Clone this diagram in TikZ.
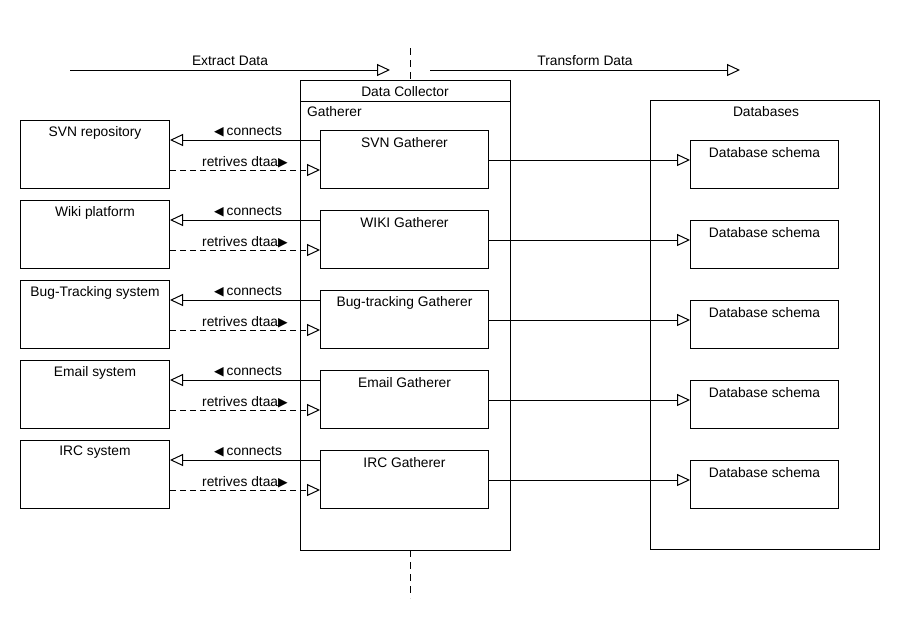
\documentclass[tikz,border=0pt]{standalone}
\usepackage{fontspec}
\setmainfont{Liberation Sans}
\newfontfamily\dejavu{DejaVu Sans}
\usetikzlibrary{arrows.meta}
\begin{document}
\begin{tikzpicture}[x=1pt,y=-1pt,
  every node/.style={font=\fontsize{13.8}{15}\selectfont},
  box/.style={draw,line width=1pt,fill=white,anchor=north west,inner sep=0pt},
  txt/.style={inner sep=0pt},
  conn/.style={line width=1pt,-{Triangle[open,length=13pt,width=12pt,fill=white]}},
  dconn/.style={conn,dash pattern=on 6pt off 4pt},
  vdash/.style={line width=1pt,dash pattern=on 7pt off 5pt}]
\useasboundingbox (0,0) rectangle (900,640);
% top arrows
\coordinate (ex1) at (70,70);
\coordinate (ex2) at (390,70);
\coordinate (tr1) at (430,70);
\coordinate (tr2) at (740,70);
\draw[conn] (ex1) -- node[txt,yshift=9pt]{Extract Data} (ex2);
\draw[conn] (tr1) -- node[txt,yshift=9pt]{Transform Data} (tr2);
% dashed separator
\coordinate (v1) at (410,48);
\coordinate (v2) at (410,80);
\coordinate (v3) at (410,550);
\coordinate (v4) at (410,598);
\draw[vdash] (v1) -- (v2);
\draw[vdash] (v3) -- (v4);
% Data Collector
\node[box,minimum width=210pt,minimum height=470pt] (dc) at (300,80) {};
\coordinate (dch) at (300,101);
\draw[line width=1pt] (dch) -- (dch -| dc.east);
\node[txt] (dct) at (405,92) {Data Collector};
\node[txt,anchor=west] (gt) at (307,112) {Gatherer};
% Databases
\node[box,minimum width=229pt,minimum height=449pt] (db) at (650,100) {};
\node[txt] (dbt) at (766,112) {Databases};
\foreach \s/\g [count=\k from 0] in {SVN repository/SVN Gatherer,Wiki platform/WIKI Gatherer,Bug-Tracking system/Bug-tracking Gatherer,Email system/Email Gatherer,IRC system/IRC Gatherer}{
  \pgfmathsetmacro{\yy}{120+80*\k}
  \node[box,minimum width=149pt,minimum height=68pt] (s\k) at (20,\yy) {};
  \node[txt] (st\k) at ([yshift=-12.5pt]s\k.north) {\s};
  \node[box,minimum width=168pt,minimum height=58pt] (g\k) at (320,\yy+10) {};
  \node[txt] (gt\k) at ([yshift=-12.5pt]g\k.north) {\g};
  \node[box,minimum width=148pt,minimum height=48pt] (d\k) at (690,\yy+20) {};
  \node[txt] (dt\k) at ([yshift=-12.5pt]d\k.north) {Database schema};
  \coordinate (c\k) at ([yshift=-10pt]g\k.north west);
  \draw[conn] (c\k) -- node[txt,yshift=8pt,xshift=3pt]{{\dejavu\fontsize{12.5}{14}\selectfont ◀}\hspace{3pt}connects} (c\k -| s\k.east);
  \coordinate (r\k) at ([yshift=-50pt]s\k.north east);
  \draw[dconn] (r\k) -- node[txt,yshift=8pt]{retrives dtaa{\dejavu\fontsize{12.5}{14}\selectfont ▶}} (r\k -| g\k.west);
  \coordinate (t\k) at ([yshift=-30pt]g\k.north east);
  \draw[conn] (t\k) -- (t\k -| d\k.west);
}
\end{tikzpicture}
\end{document}
